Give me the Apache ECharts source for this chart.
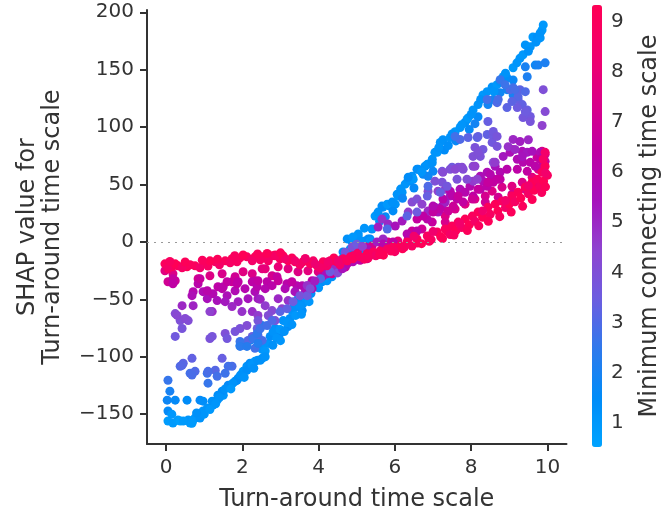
<!DOCTYPE html>
<html><head><meta charset="utf-8">
<script src="https://cdn.jsdelivr.net/npm/echarts@6/dist/echarts.min.js"></script>
<style>html,body{margin:0;padding:0;background:#fff}#c{width:663px;height:517px}</style>
</head><body><div id="c"></div>
<script>
// [turn-around time scale, SHAP value, minimum connecting time scale]
const blueLeft = [
[0.05,-156,0.8],[0.18,-157.7,0.9],[0.31,-155,0.8],[0.37,-156,0.7],[0.63,-157.7,0.9],[0.58,-155,1.1],[0.71,-155.1,0.8],[0.76,-153.4,1.0],[0.89,-153.4,1.2],[0.97,-147.3,1.1],[1.1,-144.7,1.0],[1.23,-142.1,1.3],[1.34,-137.8,1.2],[1.5,-133.5,1.1],[1.47,-130,1.4],[1.68,-124.8,1.2],[1.81,-121.3,1.0],[1.89,-118.7,1.3],[2.02,-112.7,1.1],[2.12,-108.3,1.2],[2.2,-105.7,1.4],[2.33,-104,1.0],[2.52,-101.4,1.2],[0.05,-147.3,1.6],[0.03,-137.8,1.8],[0.24,-137.8,1.6],[0.55,-137.8,1.5],[0.89,-137.8,1.6],[0.97,-138.7,1.4],[1.21,-138.7,1.3],[1.08,-145,1.2],[1.36,-133.5,1.4],[1.63,-124.8,1.6],[1.86,-120.5,1.5],[2.12,-111.8,1.4],[0.1,-130,2.0],[0.45,-156,0.9],[0.68,-158,0.9],[1.0,-150,1.1],[1.15,-146,1.0],[1.4,-135.5,1.2],[1.55,-128,1.3],[1.75,-123,1.2],[1.95,-116,1.3],[2.25,-107,1.1],[2.4,-103,1.3],
[2.47,-103.1,1.3],[2.52,-92.7,1.2],[2.68,-88.4,1.1],[2.73,-82.3,1.4],[2.86,-75.4,1.3],[2.99,-79.7,1.6],[3.07,-68.5,1.2],[3.2,-73.7,1.5],[3.25,-66.7,1.3],[3.3,-59.8,1.2],[3.38,-56.3,1.1],[3.46,-56.3,1.4],[3.57,-59.8,1.5],[3.59,-53.7,1.3],[3.46,-49.4,1.6],[3.72,-42.5,1.2],[3.86,-39,1.3],[3.99,-36.4,1.1],[4.09,-34.7,1.4],[4.22,-33.8,1.2],[4.35,-30.3,1.3],[4.51,-23.4,1.1],[4.62,-14.7,1.0],[4.77,-12.1,1.2],[4.96,-8.7,1.1],[5.14,-7.8,1.3],[2.52,-93.6,1.1],[2.81,-78,1.2],[2.99,-76.3,1.0],[3.17,-70.2,1.1],[3.33,-58,1.3],[3.51,-55.5,1.2],[2.41,-78,2.4],[2.52,-72.8,2.3],[1.94,-90,2.0],[2.2,-85.8,1.9],
[2.6,-95,1.0],[2.9,-84,1.1],[3.1,-78,1.3],[3.4,-64,1.0],[3.65,-48,1.1],[3.8,-45,1.4],[4.0,-40,1.2],[4.15,-31,1.0],[4.3,-27,1.5],[4.45,-26,1.2],[4.58,-19,1.3],[4.7,-16,1.1],[4.85,-10,1.4],
[0.15,-150,1.0],[0.8,-149,1.3],[1.3,-141,1.1],[1.7,-128,1.0],[2.05,-118,1.2],[2.3,-110,1.3],[2.6,-100,1.2],[2.8,-90,1.3],[3.0,-86,1.1],[3.3,-72,1.2],[3.55,-63,1.1],[3.75,-52,1.0]
];
const blueRight = [
[4.9,2.6,1.0],[5.04,6.9,1.1],[5.3,2.6,1.3],[5.4,11.3,1.2],[5.48,22.5,1.0],[5.56,26,1.2],[5.69,30.3,1.1],[5.87,31.2,1.3],[6.01,32.9,1.2],[6.08,39.9,1.0],[6.27,50.3,1.1],[6.35,54.6,1.3],[6.45,57.2,1.2],[6.61,63.3,1.0],[6.79,65.9,1.3],[6.87,67.6,1.1],[6.98,72,1.2],[7.11,78,1.0],[7.19,86.7,1.1],[7.26,89,1.3],[7.45,91,1.2],[7.58,96,1.0],[7.71,99.7,1.1],[7.84,104,1.3],[7.89,106.6,1.2],[7.92,108,1.0],[8.05,115,1.1],[8.18,119.6,1.2],[8.18,109,1.6],[8.31,128,1.0],[8.42,130.9,1.1],[8.55,135,1.2],[8.68,137,1.0],[8.76,139.5,1.3],[8.84,143.9,1.1],[8.94,143,1.4],[9.1,151.7,1.0],[9.28,160,1.1],[9.36,163,1.0],[9.42,171.6,1.2],[9.55,169.9,1.1],[9.62,178.5,1.0],[9.73,178.5,1.3],[9.81,177.7,1.1],[9.86,184.6,0.9],[9.89,189,1.0],[9.81,182,1.2],
[5.04,4.3,1.1],[5.22,0.9,1.4],[4.88,0,1.2],[5.35,2.6,1.5],[5.66,31.2,1.4],[5.8,32.9,1.0],[5.93,34.7,1.3],[6.06,41.6,1.2],[6.19,43.3,1.1],[6.4,52.9,1.2],[6.48,54.6,1.0],[6.58,63.3,1.4],[6.74,58.9,1.6],[6.87,57.2,1.8],[6.85,67.6,1.2],[6.98,69,1.3],[7.05,78,1.1],[7.0,61.5,1.7],[6.35,56.3,1.5],
[8.44,119.6,1.9],[8.58,124,2.0],[8.76,130,1.8],[8.94,132.6,1.9],[9.1,141,1.7],[9.42,152.5,2.0],[9.47,143.9,2.1],[9.68,154,1.8],[9.76,154,2.0],[9.94,156,2.1],[9.1,128,2.0],
[4.75,2.6,1.3],[4.9,4.3,1.0],[5.09,0.9,1.2],[5.35,0.9,1.1],[4.64,-8.7,1.5],[4.83,-6.1,1.4],
[5.75,22,1.6],[5.95,27,1.5],[6.2,38,1.7],[6.5,47,1.6],[7.3,80,1.5],[7.6,88,1.7],[7.95,98,1.6],[8.1,103,1.9],[7.4,84,1.4],
[5.2,12,1.1],[5.6,18,1.3],[6.15,46,1.2],[6.7,61,1.1],[7.15,82,1.2],[7.5,94,1.3],[7.75,102,1.1],[8.0,111,1.2],[8.25,124,1.3],[8.6,131,1.1],[8.9,147,1.2],[9.2,156,1.1],[9.5,166,1.3],[9.7,174,1.2]
];
const midLeft = [
[-0.03,-25.1,7.6],[0.05,-34.7,7.0],[0.24,-33.8,6.8],[0.18,-27.7,7.4],[0.84,-32.1,7.2],[1.15,-29.5,7.5],[1.47,-27.7,7.3],[1.81,-30.3,7.0],[2.02,-26,7.6],[2.26,-27.7,7.4],[2.33,-33.8,6.9],[2.52,-23.4,7.8],[1.73,-34.7,6.8],[2.6,-23.4,7.9],[2.78,-29.5,7.2],[2.94,-21.7,8.0],[3.2,-23.4,7.7],[3.46,-26,7.5],[3.72,-25.1,7.8],[3.99,-26,7.6],[4.17,-23.4,7.9],[4.43,-20.8,8.0],[4.69,-17.3,8.1],[4.88,-14.7,8.2],[5.04,-12.1,8.0],
[0.84,-36.4,6.2],[0.97,-43.3,5.8],[1.08,-49.4,5.5],[1.23,-45.1,5.9],[1.36,-39,6.3],[1.5,-39,6.0],[1.6,-34.7,6.5],[1.6,-46.8,5.6],[1.81,-42.5,5.8],[1.89,-34.7,6.4],[2.07,-40.7,6.0],[2.26,-34.7,6.3],[2.33,-43.3,5.7],[2.41,-49.4,5.3],[2.15,-49.4,5.4],[1.89,-52,5.2],[1.55,-52,5.3],[1.34,-51.1,5.5],[1.73,-56.3,5.0],[1.99,-60.7,4.8],[2.26,-60.7,4.9],[2.41,-64.1,4.6],[0.71,-55.5,5.1],[1.21,-60.7,4.9],[0.42,-55.5,5.0],[0.18,-32,6.6],[0.18,-36.4,6.4],[0.89,-32.1,6.7],[0.71,-43.3,6.0],[1.08,-42.5,6.1],[0.68,-46.8,5.7],[1.47,-40.7,6.2],[1.86,-36.4,6.4],[2.39,-39,6.1],[2.65,-34.7,6.3],[2.91,-30.3,6.6],[3.17,-36.4,6.2],[3.43,-38.1,6.0],
[2.41,-33.8,6.5],[2.6,-40.7,6.0],[2.78,-38.1,6.2],[2.94,-33.8,6.7],[3.12,-40.7,5.8],[3.3,-34.7,6.5],[3.38,-43.3,5.5],[3.57,-38.1,6.0],[3.83,-33.8,6.4],[4.09,-30.3,6.8],[4.35,-27.7,7.0],[2.47,-50,5.1],[2.6,-55.5,4.6],[2.78,-59.8,4.3],[3.04,-58.1,4.5],[2.94,-49.4,5.0],[3.2,-51.1,4.8],[3.65,-43.3,5.6],[3.83,-40.7,5.8],[2.68,-64.1,4.1],[2.86,-68.5,3.9],[2.41,-68.5,3.8],[2.39,-75.4,3.4],[4.2,-28,5.5],[4.4,-24,5.0],[4.5,-27,4.2],[4.6,-20,4.5],[4.05,-32,3.0],[4.3,-26,3.5],[3.9,-34,5.2],[3.7,-38,4.8],
[0.24,-62.4,4.2],[0.37,-68.5,4.0],[0.58,-68.5,4.1],[0.42,-75.4,3.8],[0.24,-82.3,3.6],[1.15,-84.1,3.9],[1.55,-79.7,4.0],[1.6,-84.1,3.7],[1.81,-78,3.8],[1.94,-75.4,3.9],[2.12,-72.8,4.1],[2.26,-82.3,3.4],[2.41,-81.5,3.2],[2.02,-90.1,3.0],[2.15,-85.8,3.1],[2.33,-92.7,2.8],[2.52,-85.8,2.9],[0.45,-105.7,3.2],[0.68,-101.4,3.3],[0.37,-108.3,3.0],[1.47,-101.4,3.4],[1.73,-108.3,2.9],[0.63,-114.4,2.8],[0.76,-112.7,3.0],[1.08,-114.4,2.7],[1.29,-111.8,3.1],[1.34,-117,2.8],[1.1,-123,2.6],[1.55,-114.4,2.7],[0.05,-120.5,2.6],[1.15,-60.7,4.5],[0.29,-64,4.3],[0.5,-66.7,4.2],[1.21,-82.3,3.8],[0.42,-107.5,3.1],[0.68,-116,2.9],[1.1,-112.7,2.9],[1.63,-108.3,2.8],
[2.28,-84.1,2.6],[2.39,-79.7,2.5],[2.47,-75.4,2.7],[2.65,-72.8,2.8],[2.78,-68.5,3.0],[2.99,-60.7,3.2],[3.17,-58.1,3.3],[3.33,-52,3.5],[3.51,-46.8,3.9],[3.7,-46.8,3.6],[3.78,-40.7,4.0],[1.94,-86.7,2.6],[1.94,-91,2.4],[2.12,-91,2.3],[2.41,-88.4,2.2]
];
const midRight = [
[7.32,22.5,7.5],[7.58,28.6,7.3],[7.84,32.9,7.6],[8.1,37.3,7.4],[8.37,39.9,7.2],[8.55,44.2,7.5],[8.81,47.7,7.3],[9.07,48.5,7.6],[9.34,52,7.4],[9.6,56.3,7.8],[9.76,63.3,7.5],[9.86,65.9,7.0],[9.94,76.3,7.2],[9.86,78.9,7.4],[9.73,73.7,6.8],
[5.04,-6.1,7.8],[5.22,-4.3,7.5],[5.4,-3.5,7.2],[5.66,-1.7,7.6],[5.82,0,7.3],[6.08,0.9,7.7],[6.35,2.6,7.4],[6.45,9.5,6.8],[6.71,11.3,7.0],[6.98,17.3,6.6],[6.85,19.9,6.2],[4.62,-20.8,7.8],[4.83,-17.3,7.2],[5.09,-16,6.5],[5.27,-14.7,6.9],[5.43,-11,7.0],[5.6,-9.5,7.6],[4.7,-22,6.8],
[5.56,13,5.2],[5.66,19.9,4.8],[5.82,15.6,5.0],[6.01,13.9,5.5],[6.19,18.2,5.3],[6.35,26,4.6],[6.45,34.7,4.2],[6.58,37.3,4.0],[6.71,32.9,4.5],[6.87,26.9,5.0],[7.05,30.3,5.3],[7.13,26,5.6],[7.24,31.2,5.4],[7.32,34.7,5.1],[7.45,39.9,5.3],[7.32,45.9,4.6],[7.13,44.2,4.5],[6.87,44.2,4.2],[7.24,61.5,3.6],[7.24,52,3.9],[7.05,52.9,4.0],[7.5,65,3.5],
[4.62,-23.4,5.5],[4.75,-19.1,6.0],[4.9,-17.3,5.8],[5.27,-6.1,5.5],[5.53,0,5.2],[5.69,2.6,5.0],[5.4,-10.4,6.2],[5.69,-1.7,6.0],[5.95,0,6.3],[6.32,6.9,6.0],[6.58,9.5,6.2],
[9.1,89.3,5.0],[9.28,87.5,5.2],[9.07,80.6,5.4],[9.34,78.9,5.6],[9.47,78,5.3],[9.6,78.9,5.5],[9.81,78,5.8],[9.89,78,6.0],[8.84,74.5,5.3],[9.02,78,5.6],[9.21,72,5.8],[9.36,69.3,6.0],[9.55,69.3,6.2],[8.76,60.7,5.9],[8.94,63.3,6.1],[9.21,63.3,6.3],[9.47,61.5,6.5],[9.68,65.9,6.2],[9.81,72,6.4],[8.42,60.7,5.7],[8.58,54.6,6.0],[8.31,52.9,5.8],[8.24,57.2,5.6],[7.97,48.5,5.9],[7.71,45.9,5.7],[7.45,44.2,6.0],[7.26,37.3,6.2],[7.5,40.5,6.1],[7.63,37.3,6.3],[7.79,34.7,6.5],[7.19,28.6,6.3],[7.0,26,6.5],[6.74,22.5,6.4],[6.58,19.9,6.6],[7.0,31.2,5.9],[8.05,39.9,6.4],[8.24,45.9,6.2],[8.42,48.5,6.3],[8.58,52,6.5],[8.76,54.6,6.4],
[8.97,83,4.8],[9.15,80.6,5.0],[9.5,89,5.0],[9.94,70.2,6.6],[9.34,74.5,5.4],[8.63,65.9,5.5],[8.5,58.9,6.0],[8.68,54.6,6.5],[8.44,52,6.6],[8.18,45.9,6.6],[7.84,43.3,6.0],[7.66,39.9,6.7],[8.03,37.3,6.9],[8.37,34.7,7.0],[8.71,39,7.0],[9.07,41.6,7.1],[9.42,45.9,7.0],[9.68,52,7.1],[7.53,31.2,6.8],[7.4,26.9,6.9],[7.32,17.3,7.3],
[9.02,132.6,3.0],[9.1,134.3,2.8],[9.28,132.6,3.2],[9.23,124,3.4],[9.34,119.6,3.3],[9.21,117,3.5],[9.47,115,3.4],[9.36,108.3,3.7],[9.55,109.2,3.6],[8.94,117,3.2],[8.68,121.3,3.0],[8.42,124,2.8],[9.89,132.6,4.0],[9.94,113.5,4.2],[9.86,101.4,4.5],[8.76,141.3,2.6],[8.89,137,2.7],[7.71,89.3,3.0],[7.58,91.9,2.8],[8.16,91,3.1],[8.42,93.6,3.3],[8.58,91.9,3.5],[8.55,86.7,3.6],[8.68,83.2,3.8],[8.31,80.6,3.7],[8.24,74.5,3.9],[8.05,74.5,4.0],[7.79,63.3,4.1],[7.66,65,3.9],[7.45,63.3,4.0],[7.26,60.7,4.2],[8.05,65.9,4.3],[8.58,69.3,4.4],[8.05,52.9,4.6],[8.16,54.6,4.5],[9.55,104.9,3.8],[9.42,113.5,3.5],[9.23,126.5,3.1],[9.15,132.6,2.9],[9.42,130.9,3.0],[9.07,122.2,3.2],[8.71,124,2.9],[8.44,104.9,3.4],[8.58,96.2,3.6],[8.18,91.9,3.3],[7.92,91,3.2],[8.1,82.3,3.9],[8.18,78,4.0],[7.58,63.3,4.3],[7.76,65,4.2],[8.1,65.9,4.5],[8.63,69.3,4.6],[8.68,91.9,3.8],
[5.8,11.3,3.0],[6.32,22.5,3.2],[6.58,26,3.5],[6.85,39.9,3.4],[6.87,48.5,3.0],[7.19,43.3,3.4],[7.37,48.5,3.7],[7.63,54.6,3.9],[7.89,54.6,4.1],
[4.88,-4.3,4.0],[5.0,-2,3.5],[5.15,-4,4.5],[4.7,-9,3.8]
];
const redLeft = [
[-0.03,-19.1,9.0],[0.16,-21.7,9.1],[0.31,-20.8,8.9],[0.55,-21.7,9.2],[0.76,-20.8,9.0],[1.02,-19.1,9.1],[1.29,-17.3,8.8],[1.55,-16.5,9.0],[1.73,-14.7,9.2],[1.94,-13.9,9.0],[2.12,-13,8.9],[2.33,-13,9.1],[2.54,-13,9.0],[2.78,-12.1,9.2],[2.99,-14.7,8.9],[3.2,-16.5,9.0],[3.38,-17.3,9.1],[3.59,-17.3,8.8],[3.78,-19.1,9.0],[3.96,-20.8,9.2],[4.12,-17.3,9.0],[4.3,-16.5,8.9],[4.48,-17.3,9.1],[4.64,-14.7,9.0],[4.83,-13,9.2],[5.01,-10.4,9.0],
[0.05,-23.4,8.6],[0.24,-19.1,9.3],[0.42,-22.5,8.7],[0.63,-19.9,9.0],[0.89,-22.5,8.5],[1.1,-21,8.8],[1.15,-16.5,9.3],[1.4,-19.9,8.6],[1.68,-18.2,8.7],[1.86,-17.3,8.8],[2.02,-11.3,9.3],[2.26,-16.5,8.5],[2.47,-15.6,8.7],[2.68,-16.5,8.6],[2.86,-11.3,9.2],[3.07,-12.1,9.3],[3.3,-13.9,9.1],[3.51,-19.9,8.6],[3.65,-14.7,9.2],[3.86,-16.5,8.7],[4.04,-22.5,8.5],[4.22,-20.8,8.6],[4.4,-13.9,9.3],[4.56,-19.9,8.5],[4.75,-16.5,8.6],[4.9,-12.1,8.8],
[2.86,-12.1,8.7],[3.12,-14.7,8.5],[3.38,-16.5,8.4],[3.65,-14.7,8.3],[3.91,-19.1,8.2],[4.25,-17.3,8.4],[4.51,-16.5,8.3],
[0.1,-17,8.9],[0.5,-17.5,9.2],[0.95,-16,9.0],[1.35,-15,9.1],[1.8,-12,8.9],[2.4,-10.5,9.0],[2.65,-10,9.2],[3.0,-9.5,9.1]
];
const redRight = [
[4.75,-16.5,9.0],[4.9,-14.7,9.1],[5.09,-13,8.9],[5.27,-10.4,9.2],[5.43,-8.7,9.0],[5.61,-7.8,9.1],[5.8,-6.1,8.8],[5.95,-4.3,9.0],[6.14,-3.5,9.2],[6.32,0,9.0],[6.58,2.6,9.1],[6.85,5.2,8.9],[7.11,8.7,9.0],[7.37,9.5,9.2],[7.32,11.3,9.0],[7.5,13.9,9.1],[7.66,17.3,8.9],[7.84,19.9,9.2],[8.03,22.5,9.0],[8.18,26,9.1],[8.44,30.3,9.0],[8.63,32.9,9.2],[8.81,35.5,8.9],[9.07,39.9,9.0],[9.23,43.3,9.1],[9.42,47.7,9.0],[9.6,52,9.2],[9.73,54.6,9.0],[9.86,60.7,8.9],[9.94,65.9,9.1],[9.89,72,8.7],[9.94,78,8.5],
[5.2,-15,8.8],[5.5,-12,8.6],[5.7,-11.5,9.3],[6.0,-8.5,8.7],[6.2,-6,9.3],[6.45,-3.5,8.8],[6.7,-1.5,9.3],[6.95,2,8.7],[7.2,4.5,9.3],[7.45,6.5,8.6],[7.6,10,9.3],[7.75,12.5,8.7],[7.95,15,9.3],[8.1,18,8.6],[8.3,21.5,9.3],[8.5,24,8.8],[8.7,27,9.3],[8.9,30,8.6],[9.0,33,9.3],[9.15,35,8.7],[9.3,38,9.3],[9.5,42,8.6],[9.65,45,9.3],[9.8,48,8.8],[9.9,53,9.3],[10.0,58,8.9],
[5.3,-14,8.9],[5.6,-11,9.1],[5.9,-8,9.0],[6.25,-4.5,8.9],[6.6,-1,9.1],[6.9,0.5,9.0],[7.25,3,9.2],[7.55,6,8.9],[7.9,10,9.1],[8.2,14,9.0],[8.45,18,9.2],[8.75,22,8.9],[9.05,26,9.1],[9.35,31,9.0],[9.6,37,9.2],[9.85,43,8.9],[9.95,48,9.1],
[6.5,5,8.4],[7.0,9,8.3],[7.7,16,8.4],[8.3,27,8.3],[8.9,36,8.4],[9.5,49,8.3],[9.95,60,8.4]
];
const xTicks = [0, 2, 4, 6, 8, 10];
const yTicks = [-150, -100, -50, 0, 50, 100, 150, 200];
const cTicks = [1, 2, 3, 4, 5, 6, 7, 8, 9];
const xRange = [-0.5, 10.5];
const yRange = [-176, 202];
const cRange = [0.52, 9.33];

const points = [].concat(blueLeft, blueRight, midLeft, midRight, redLeft, redRight);
const FONT = 'DejaVu Sans';
const INK = '#333333';
const fmt = v => (v < 0 ? '\u2212' + Math.abs(v) : String(v));

const chart = echarts.init(document.getElementById('c'), null, {renderer: 'canvas'});
chart.setOption({
  animation: false,
  backgroundColor: '#ffffff',
  textStyle: {fontFamily: FONT, color: INK},
  grid: [
    {left: 147, top: 10, width: 419.5, height: 436, containLabel: false},
    {left: 592, top: 5, width: 10, height: 442, show: false}
  ],
  xAxis: [
    {type: 'value', gridIndex: 0, min: xRange[0], max: xRange[1],
     axisLine: {show: true, onZero: false, lineStyle: {color: INK, width: 2}},
     axisTick: {show: true, customValues: xTicks, length: 7, lineStyle: {color: INK, width: 2}},
     axisLabel: {customValues: xTicks, fontSize: 20, color: INK, margin: 14, fontFamily: FONT, formatter: fmt},
     splitLine: {show: false},
     name: 'Turn-around time scale', nameLocation: 'middle', nameGap: 44,
     nameTextStyle: {fontSize: 24, color: INK, fontFamily: FONT}},
    {type: 'value', gridIndex: 1, show: false, min: 0, max: 1}
  ],
  yAxis: [
    {type: 'value', gridIndex: 0, min: yRange[0], max: yRange[1],
     axisLine: {show: true, onZero: false, lineStyle: {color: INK, width: 2}},
     axisTick: {show: true, customValues: yTicks, length: 7, lineStyle: {color: INK, width: 2}},
     axisLabel: {customValues: yTicks, fontSize: 20, color: INK, margin: 13, fontFamily: FONT, formatter: fmt},
     splitLine: {show: false},
     name: 'SHAP value for\nTurn-around time scale', nameLocation: 'middle', nameGap: 82, nameRotate: 90,
     nameTextStyle: {fontSize: 24, color: INK, fontFamily: FONT, lineHeight: 25, align: 'center'}},
    {type: 'value', gridIndex: 1, position: 'right', min: cRange[0], max: cRange[1],
     axisLine: {show: false},
     axisTick: {show: true, customValues: cTicks, length: 5, lineStyle: {color: INK, width: 1.5}},
     axisLabel: {customValues: cTicks, fontSize: 20, color: INK, margin: 14, fontFamily: FONT},
     splitLine: {show: false},
     name: 'Minimum connecting time scale', nameLocation: 'middle', nameGap: 41, nameRotate: 90,
     nameTextStyle: {fontSize: 24, color: INK, fontFamily: FONT}}
  ],
  visualMap: {
    type: 'continuous', min: cRange[0], max: cRange[1], dimension: 2, seriesIndex: 0,
    calculable: false, hoverLink: false, orient: 'vertical',
    left: 592, top: 5, itemWidth: 10, itemHeight: 442, padding: 0,
    inRange: {color: ['#00a3ff', '#008cf8', '#2f79ec', '#6c5de0', '#8e45d0', '#a612bc', '#bf00a4', '#da0088', '#f2006c', '#ff0055']}
  },
  series: [{
    type: 'scatter', xAxisIndex: 0, yAxisIndex: 0,
    data: points, symbolSize: 9, itemStyle: {opacity: 1},
    markLine: {silent: true, symbol: ['none', 'none'], label: {show: false},
      lineStyle: {type: [2, 5], color: '#999999', width: 1},
      data: [{yAxis: 0}]}
  }]
});
</script></body></html>
